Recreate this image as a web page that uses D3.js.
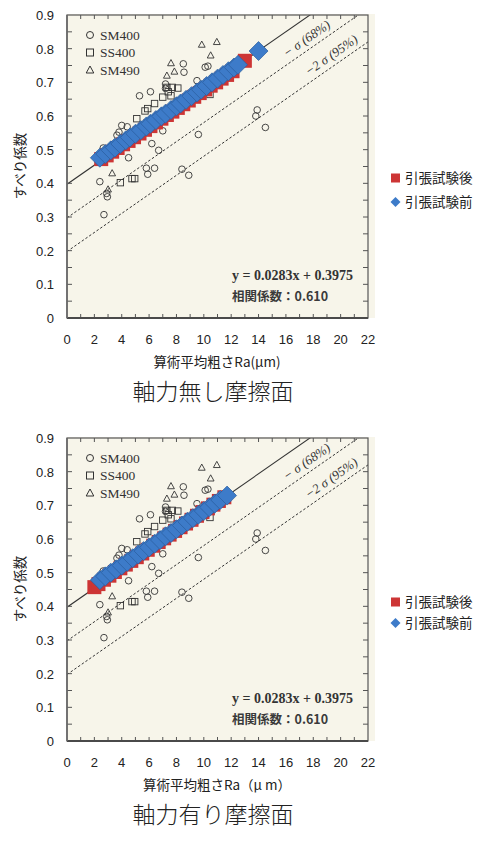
<!DOCTYPE html>
<meta charset="utf-8">
<head>
<style>
body { margin: 0; background: #fff; }
.tick-lbl { font-family: "Liberation Sans", "Noto Sans", sans-serif; font-size: 13px; fill: #222; }
.jp { font-family: "Noto Sans CJK JP", sans-serif; fill: #222; }
.scan { font-family: "Liberation Serif", "DejaVu Serif", serif; fill: #333; }
</style>
</head>

<script src="https://cdn.jsdelivr.net/npm/d3@7"></script>

<div id="chart"></div>

<script>
// axis ticks
var xTickLabels = [0, 2, 4, 6, 8, 10, 12, 14, 16, 18, 20, 22];
var yTickLabels = [0, 0.1, 0.2, 0.3, 0.4, 0.5, 0.6, 0.7, 0.8, 0.9];

// scanned background data (Ra, slip coefficient)
var sm400 = [[2.4,0.405],[2.7,0.307],[2.9,0.370],[2.95,0.360],[2.65,0.505],[3.65,0.543],[3.8,0.552],
  [4.0,0.572],[4.4,0.568],[4.5,0.476],[5.3,0.660],[6.1,0.672],[6.2,0.518],[6.7,0.498],[5.8,0.445],
  [6.4,0.445],[5.9,0.427],[7.0,0.556],[7.2,0.695],[7.2,0.682],[8.4,0.442],[8.5,0.755],[8.55,0.730],
  [8.9,0.424],[9.5,0.705],[9.6,0.545],[10.1,0.745],[10.3,0.748],[13.8,0.600],[13.9,0.618],[14.5,0.566]];
var ss400 = [[3.9,0.402],[4.75,0.414],[4.95,0.414],[5.1,0.592],[5.7,0.615],[5.9,0.622],[6.4,0.637],
  [7.0,0.656],[7.3,0.685],[7.4,0.672],[7.7,0.685],[8.1,0.683],[10.45,0.664],[7.6,0.660]];
var sm490 = [[3.0,0.382],[3.3,0.430],[7.3,0.720],[7.6,0.757],[7.85,0.732],[9.85,0.812],[10.5,0.780],[10.95,0.820]];
var scanLegend = ["SM400", "SS400", "SM490"];

// regression line and sigma bands from the scan
var fitSlope = 0.0283, fitIntercept = 0.3975;
var bandOffsets = [0, -0.1, -0.2];
var bandLabels = ["− σ (68%)", "−2 σ (95%)"];

// panel 1: 軸力無し
var afterX1 = [2.5,2.9,3.3,3.7,4.1,4.5,4.9,5.3,5.7,6.1,6.5,6.9,7.3,7.7,8.1,8.5,8.9,9.3,9.7,10.1,10.5,10.9,11.3,11.7,12.1,13.0];
var afterY1 = [0.472,0.483,0.494,0.505,0.516,0.526,0.537,0.548,0.559,0.570,0.581,0.592,0.603,0.613,0.624,0.635,0.646,0.657,0.668,0.679,0.690,0.700,0.711,0.722,0.733,0.764];
var beforeX1 = [2.4,2.8,3.2,3.5,3.9,4.3,4.6,5.0,5.4,5.8,6.1,6.5,6.9,7.2,7.6,8.0,8.3,8.7,9.1,9.5,9.8,10.2,10.6,11.0,11.4,11.8,12.2,12.5,14.0];
var beforeY1 = [0.476,0.487,0.498,0.506,0.517,0.528,0.536,0.547,0.558,0.569,0.577,0.588,0.599,0.607,0.618,0.629,0.637,0.648,0.659,0.670,0.678,0.689,0.700,0.711,0.722,0.733,0.744,0.752,0.793];

// panel 2: 軸力有り
var afterX2 = [2.0,2.3,2.7,3.1,3.5,3.9,4.3,4.7,5.1,5.5,5.9,6.3,6.7,7.1,7.5,7.9,8.3,8.7,9.1,9.5,9.9,10.3,10.7,11.1,11.5];
var afterY2 = [0.457,0.466,0.479,0.491,0.502,0.513,0.524,0.535,0.546,0.557,0.568,0.580,0.591,0.602,0.613,0.624,0.635,0.646,0.657,0.669,0.680,0.691,0.702,0.713,0.724];
var beforeX2 = [2.4,2.8,3.2,3.6,4.0,4.4,4.8,5.2,5.6,6.0,6.4,6.8,7.2,7.6,8.0,8.4,8.8,9.2,9.6,10.0,10.4,10.8,11.2,11.7];
var beforeY2 = [0.478,0.489,0.500,0.510,0.521,0.532,0.543,0.554,0.564,0.575,0.586,0.597,0.608,0.618,0.629,0.640,0.651,0.662,0.672,0.683,0.694,0.705,0.716,0.729];

var seriesNames = ["引張試験後", "引張試験前"];
var redColor = "#cd3535", blueColor = "#3d7bc9";

var svg = d3.select("#chart").append("svg")
    .attr("width", 484)
    .attr("height", 841);

function diamond(r) { return "M0," + (-r) + "L" + r + ",0L0," + r + "L" + (-r) + ",0Z"; }

function drawPanel(id, top, afterX, afterY, beforeX, beforeY, xTitle, title, legTop, legGap) {
  var x = d3.scaleLinear().domain([0, 22]).range([67, 368]);
  var y = d3.scaleLinear().domain([0, 0.9]).range([top + 303, top]);
  var g = svg.append("g");

  // scanned plot background
  g.append("rect")
    .attr("x", x(0)).attr("y", y(0.9) - 1)
    .attr("width", x(22) - x(0) + 7).attr("height", y(0) - y(0.9) + 1)
    .attr("fill", "#f7f5ea");

  g.append("clipPath").attr("id", "clip" + id)
    .append("rect").attr("x", x(0)).attr("y", y(0.9)).attr("width", x(22) - x(0)).attr("height", y(0) - y(0.9));

  var lines = g.append("g").attr("clip-path", "url(#clip" + id + ")");
  bandOffsets.forEach(function(o, i) {
    lines.append("line")
      .attr("x1", x(0)).attr("y1", y(fitIntercept + o))
      .attr("x2", x(22)).attr("y2", y(fitIntercept + o + fitSlope * 22))
      .attr("stroke", "#333")
      .attr("stroke-width", i == 0 ? 1.1 : 1)
      .attr("stroke-dasharray", i == 0 ? null : "2.5,2");
  });

  // sigma labels along the dashed lines
  var ang = Math.atan2(y(fitSlope * 10) - y(0), x(10) - x(0)) * 180 / Math.PI;
  [[17.7, -0.1], [19.5, -0.2]].forEach(function(p, i) {
    g.append("text").attr("class", "scan")
      .attr("transform", "translate(" + x(p[0]) + "," + (y(fitIntercept + p[1] + fitSlope * p[0]) - 7) + ")rotate(" + ang + ")")
      .attr("text-anchor", "middle")
      .style("font-size", "13px").style("font-style", "italic")
      .text(bandLabels[i]);
  });

  // scanned points
  g.selectAll(".c").data(sm400).enter().append("circle")
    .attr("cx", function(d) { return x(d[0]); }).attr("cy", function(d) { return y(d[1]); })
    .attr("r", 3.3).attr("fill", "none").attr("stroke", "#333").attr("stroke-width", 0.9);
  g.selectAll(".s").data(ss400).enter().append("rect")
    .attr("x", function(d) { return x(d[0]) - 3.2; }).attr("y", function(d) { return y(d[1]) - 3.2; })
    .attr("width", 6.4).attr("height", 6.4).attr("fill", "none").attr("stroke", "#333").attr("stroke-width", 0.9);
  g.selectAll(".t").data(sm490).enter().append("path")
    .attr("d", "M0,-3.6L3.4,2.6L-3.4,2.6Z")
    .attr("transform", function(d) { return "translate(" + x(d[0]) + "," + y(d[1]) + ")"; })
    .attr("fill", "none").attr("stroke", "#333").attr("stroke-width", 0.9);

  // scanned legend
  var shapes = ["c", "s", "t"];
  scanLegend.forEach(function(s, i) {
    var ly = top + 20 + i * 17.5, lx = 90;
    if (shapes[i] == "c") g.append("circle").attr("cx", lx).attr("cy", ly).attr("r", 3.5).attr("fill", "none").attr("stroke", "#333");
    if (shapes[i] == "s") g.append("rect").attr("x", lx - 3.5).attr("y", ly - 3.5).attr("width", 7).attr("height", 7).attr("fill", "none").attr("stroke", "#333");
    if (shapes[i] == "t") g.append("path").attr("d", "M0,-4L3.8,3L-3.8,3Z").attr("transform", "translate(" + lx + "," + ly + ")").attr("fill", "none").attr("stroke", "#333");
    g.append("text").attr("class", "scan").attr("x", 100).attr("y", ly + 4.5)
      .style("font-size", "13.5px").text(s);
  });

  // equation
  g.append("text").attr("class", "scan").attr("x", 232).attr("y", y(0) - 38)
    .style("font-size", "14px").style("font-weight", "bold").text("y = 0.0283x + 0.3975");
  g.append("text").attr("class", "jp").attr("x", 232).attr("y", y(0) - 17)
    .style("font-size", "12.5px").style("font-weight", "bold").style("fill", "#3a3a3a").text("相関係数：0.610");

  // frame with inner ticks
  g.append("rect").attr("x", x(0)).attr("y", y(0.9)).attr("width", x(22) - x(0)).attr("height", y(0) - y(0.9))
    .attr("fill", "none").attr("stroke", "#555").attr("stroke-width", 1.2);
  var yMinor = d3.range(0, 18).map(function(i) { return i * 0.05; });
  yMinor.forEach(function(v) {
    g.append("line").attr("x1", x(0)).attr("x2", x(0) + 5).attr("y1", y(v)).attr("y2", y(v)).attr("stroke", "#555");
    g.append("line").attr("x1", x(22)).attr("x2", x(22) - 5).attr("y1", y(v)).attr("y2", y(v)).attr("stroke", "#555");
  });
  d3.range(1, 22).forEach(function(v) {
    g.append("line").attr("x1", x(v)).attr("x2", x(v)).attr("y1", y(0.9)).attr("y2", y(0.9) + 4).attr("stroke", "#555");
    g.append("line").attr("x1", x(v)).attr("x2", x(v)).attr("y1", y(0)).attr("y2", y(0) - 4).attr("stroke", "#555");
  });

  // series: red behind, blue on top
  g.selectAll(".a").data(afterX).enter().append("rect")
    .attr("x", function(d) { return x(d) - 7; })
    .attr("y", function(d, i) { return y(afterY[i]) - 7; })
    .attr("width", 14).attr("height", 14)
    .attr("fill", redColor);
  g.selectAll(".b").data(beforeX).enter().append("path")
    .attr("d", diamond(9.5))
    .attr("transform", function(d, i) { return "translate(" + x(d) + "," + y(beforeY[i]) + ")"; })
    .attr("fill", blueColor).attr("stroke", "#2a5d9e").attr("stroke-width", 0.7);

  // axes
  g.append("line").attr("x1", x(0)).attr("x2", x(22)).attr("y1", y(0)).attr("y2", y(0)).attr("stroke", "#4a4a4a").attr("stroke-width", 2);
  g.append("line").attr("x1", x(0)).attr("x2", x(0)).attr("y1", y(0)).attr("y2", y(0.9)).attr("stroke", "#6a6a6a").attr("stroke-width", 1.6);

  g.selectAll(".xl").data(xTickLabels).enter().append("text").attr("class", "tick-lbl")
    .attr("x", function(d) { return x(d); }).attr("y", y(0) + 26)
    .attr("text-anchor", "middle").text(function(d) { return d; });
  g.selectAll(".yl").data(yTickLabels).enter().append("text").attr("class", "tick-lbl")
    .attr("x", 54).attr("y", function(d) { return y(d) + 5; })
    .attr("text-anchor", "end").text(function(d) { return d; });

  g.append("text").attr("class", "jp")
    .attr("transform", "translate(25," + (top + 151) + ")rotate(-90)")
    .attr("text-anchor", "middle").style("font-size", "13.5px").text("すべり係数");
  g.append("text").attr("class", "jp")
    .attr("x", 217).attr("y", y(0) + 49)
    .attr("text-anchor", "middle").style("font-size", "13.5px").text(xTitle);
  g.append("text").attr("class", "jp")
    .attr("x", 213).attr("y", y(0) + 82)
    .attr("text-anchor", "middle").style("font-size", "23px").style("font-weight", "300").text(title);

  // legend
  g.append("rect").attr("x", 391).attr("y", legTop - 4.5).attr("width", 9).attr("height", 9).attr("fill", redColor);
  g.append("path").attr("d", diamond(5)).attr("transform", "translate(395.5," + (legTop + legGap) + ")").attr("fill", blueColor);
  seriesNames.forEach(function(s, i) {
    g.append("text").attr("class", "jp").attr("x", 405).attr("y", legTop + i * legGap + 5)
      .style("font-size", "13.5px").text(s);
  });
}

drawPanel(1, 15, afterX1, afterY1, beforeX1, beforeY1, "算術平均粗さRa(μm)", "軸力無し摩擦面", 178, 24);
drawPanel(2, 438, afterX2, afterY2, beforeX2, beforeY2, "算術平均粗さRa（μ m）", "軸力有り摩擦面", 602, 21);
</script>
